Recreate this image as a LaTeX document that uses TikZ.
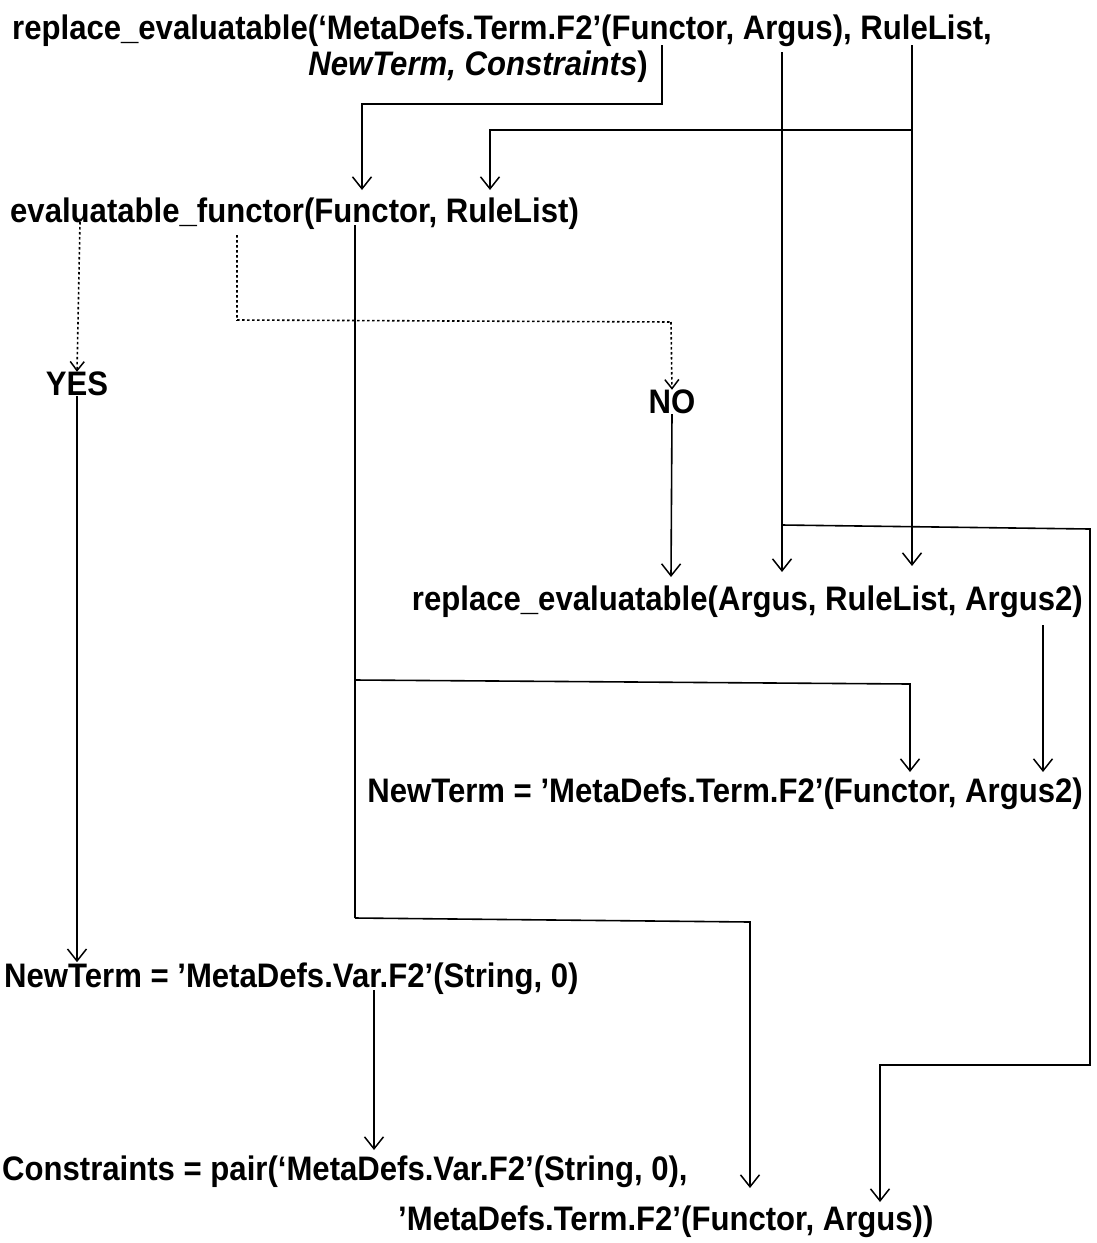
\documentclass[tikz,border=0pt]{standalone}
\usepackage{fontspec}
\setmainfont{Liberation Sans}[FakeStretch=0.915]
\usetikzlibrary{arrows.meta}

\begin{document}
\begin{tikzpicture}[
    x=1pt, y=-1pt,
    term/.style={inner sep=0pt, font=\fontsize{34}{40}\selectfont\bfseries},
    link/.style={draw, line width=1.6pt, -{Straight Barb[length=12pt, width=19pt, line width=1.5pt]}},
    plain/.style={draw, line width=1.6pt},
    dotlink/.style={draw, line width=1.6pt, dash pattern=on 2.5pt off 2.5pt, -{Straight Barb[length=9pt, width=14pt, line width=1.5pt]}},
    dotplain/.style={draw, line width=1.6pt, dash pattern=on 2.5pt off 2.5pt}
]
\useasboundingbox (0,0) rectangle (1096,1243);

% terms
\node[term, anchor=base west] (rep1) at (12,39) {replace\_evaluatable(`MetaDefs.Term.F2'(Functor, Argus), RuleList,};
\node[term, anchor=base east] (rep1b) at (648,75) {\itshape NewTerm, Constraints\upshape)};
\node[term, anchor=base west] (evf) at (10,222) {evaluatable\_functor(Functor, RuleList)};
\node[term] (yes) at (77,384) {YES};
\node[term] (no) at (672,402) {NO};
\node[term, anchor=base east] (rep2) at (1083,610) {replace\_evaluatable(Argus, RuleList, Argus2)};
\node[term, anchor=base east] (nt1) at (1083,802) {NewTerm = 'MetaDefs.Term.F2'(Functor, Argus2)};
\node[term, anchor=base west] (nt2) at (4,987) {NewTerm = 'MetaDefs.Var.F2'(String, 0)};
\node[term, anchor=base west] (con) at (2,1180) {Constraints = pair(`MetaDefs.Var.F2'(String, 0),};
\node[term, anchor=base west] (conb) at (398,1230) {'MetaDefs.Term.F2'(Functor, Argus))};

% points under the words
\coordinate (fun1) at (662,45);
\coordinate (arg1) at (782,52);
\coordinate (rul1) at (912,45);
\coordinate (fun2) at (362,190);
\coordinate (rul2) at (490,190);
\coordinate (fun2o) at (355,225);
\coordinate (evf1) at (80,222);
\coordinate (evf2) at (237,235);
\coordinate (arg3) at (782,572);
\coordinate (rul3) at (912,566);
\coordinate (rep3) at (671,577);
\coordinate (argo) at (1043,625);
\coordinate (fun4) at (910,772);
\coordinate (arg4) at (1043,772);
\coordinate (var5) at (374,990);
\coordinate (var6) at (374,1150);
\coordinate (fun6) at (750,1188);
\coordinate (arg6) at (880,1202);

% solid links
\draw[link] (fun1) -- (662,104) -- (fun2 |- 0,104) -- (fun2);
\draw[link] (rul1) -- (rul3);
\draw[link] (rul1 |- 0,130) -- (rul2 |- 0,130) -- (rul2);
\draw[link] (arg1) -- (arg3);
\draw[link] (arg1 |- 0,525) -- (1090,529) -- (1090,1065) -- (arg6 |- 0,1065) -- (arg6);
\draw[plain] (fun2o) -- (355,918);
\draw[link] (355,918) -- (750,922) -- (fun6);
\draw[link] (355,680) -- (910,684) -- (fun4);
\draw[link] (yes.south) -- (yes.south |- nt2.north);
\draw[link] (no.south) -- (rep3);
\draw[link] (argo) -- (arg4);
\draw[link] (var5) -- (var6);

% dotted links
\draw[dotlink] (evf1) -- (yes.north);
\draw[dotplain] (evf2) -- (237,320) -- (671,322);
\draw[dotlink] (671,322) -- (no.north);

\end{tikzpicture}
\end{document}
